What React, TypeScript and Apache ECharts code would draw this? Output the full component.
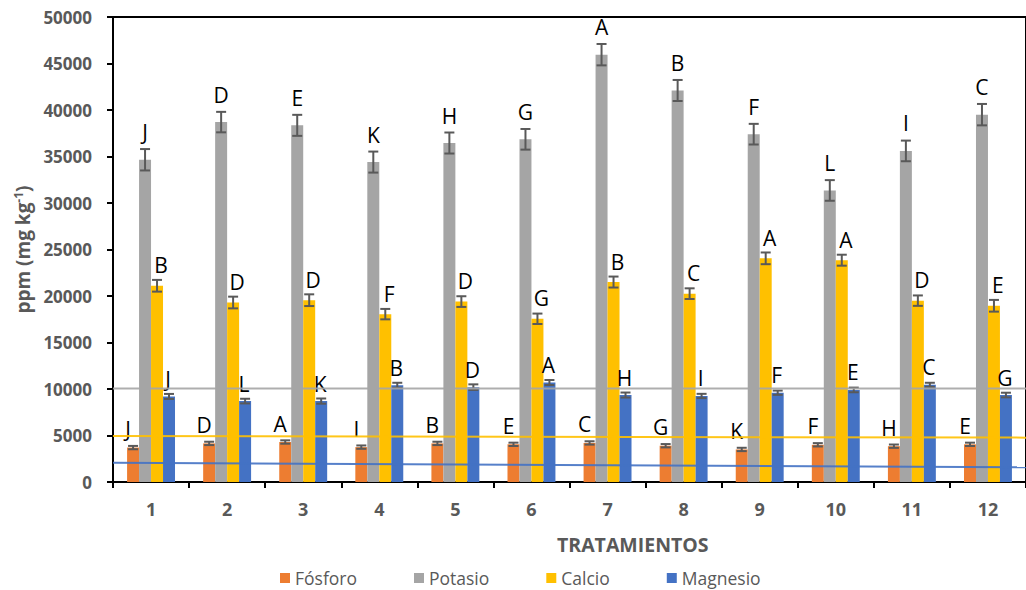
import React, { useEffect, useRef } from "react";
import * as echarts from "echarts";

// Treatments on the category axis
const categories = ["1", "2", "3", "4", "5", "6", "7", "8", "9", "10", "11", "12"];

// Mean concentrations (ppm, mg kg-1)
const fosforo = [3700, 4150, 4300, 3750, 4150, 4050, 4200, 3900, 3500, 4000, 3850, 4050];
const potasio = [34650, 38700, 38350, 34400, 36450, 36850, 45950, 42100, 37400, 31350, 35600, 39500];
const calcio = [21100, 19300, 19550, 18050, 19400, 17550, 21500, 20250, 24050, 23850, 19500, 18950];
const magnesio = [9200, 8700, 8700, 10400, 10200, 10700, 9350, 9250, 9600, 9900, 10450, 9350];

// Standard errors
const errFosforo = [180, 180, 180, 180, 180, 180, 180, 180, 180, 180, 180, 180];
const errPotasio = [1150, 1100, 1130, 1130, 1130, 1110, 1150, 1130, 1110, 1110, 1110, 1150];
const errCalcio = [630, 630, 630, 560, 575, 560, 590, 575, 630, 590, 560, 630];
const errMagnesio = [270, 250, 280, 270, 300, 270, 270, 230, 230, 250, 220, 250];

// Mean separation letters
const letFosforo = ["J", "D", "A", "I", "B", "E", "C", "G", "K", "F", "H", "E"];
const letPotasio = ["J", "D", "E", "K", "H", "G", "A", "B", "F", "L", "I", "C"];
const letCalcio = ["B", "D", "D", "F", "D", "G", "B", "C", "A", "A", "D", "E"];
const letMagnesio = ["J", "L", "K", "B", "D", "A", "H", "I", "F", "E", "C", "G"];

// Reference lines across the treatments (start, end)
const lineSpan = [0, 12];
const refPotasio = [10050, 10050];
const refCalcio = [4950, 4770];
const refMagnesio = [2080, 1575];

const yTicks = { min: 0, max: 50000, interval: 5000 };

const COLORS = {
  fosforo: "#ED7D31",
  potasio: "#A5A5A5",
  calcio: "#FFC000",
  magnesio: "#4472C4",
};

const FONT = "'Open Sans', 'DejaVu Sans', sans-serif";
const CAT_GAP = 0.37;

function barSeries(name: string, data: number[], letters: string[], color: string, distance: number, dx: number) {
  return {
    name,
    type: "bar",
    data,
    itemStyle: { color },
    barGap: "0%",
    barCategoryGap: CAT_GAP * 100 + "%",
    z: 2,
    label: {
      show: true,
      position: "top",
      distance,
      offset: [dx, 0],
      formatter: (p: any) => letters[p.dataIndex],
      fontFamily: FONT,
      fontSize: 21,
      color: "#000",
    },
  };
}

function errorSeries(idx: number, values: number[], errs: number[]) {
  return {
    type: "custom",
    xAxisIndex: 0,
    yAxisIndex: 0,
    z: 5,
    silent: true,
    encode: { x: 0, y: 1 },
    data: values.map((v, i) => [i, v, errs[i]]),
    renderItem: (_params: any, api: any) => {
      const i = api.value(0);
      const v = api.value(1);
      const e = api.value(2);
      const band = api.size([1, 0])[0];
      const bw = (band * (1 - CAT_GAP)) / 4;
      const cx = api.coord([i, v])[0] + (idx - 1.5) * bw;
      const hi = api.coord([i, v + e])[1];
      const lo = api.coord([i, v - e])[1];
      const half = 5;
      const style = { stroke: "#595959", lineWidth: 2 };
      return {
        type: "group",
        children: [
          { type: "line", shape: { x1: cx, y1: hi, x2: cx, y2: lo }, style },
          { type: "line", shape: { x1: cx - half, y1: hi, x2: cx + half, y2: hi }, style },
          { type: "line", shape: { x1: cx - half, y1: lo, x2: cx + half, y2: lo }, style },
        ],
      };
    },
  };
}

function refLine(values: number[], color: string) {
  return {
    type: "line",
    xAxisIndex: 1,
    yAxisIndex: 0,
    data: lineSpan.map((x, i) => [x, values[i]]),
    symbol: "none",
    silent: true,
    z: 8,
    lineStyle: { color, width: 2, opacity: 0.9 },
  };
}

export default function App() {
  const ref = useRef<HTMLDivElement>(null);

  useEffect(() => {
    if (!ref.current) return;
    const chart = echarts.init(ref.current, undefined, { renderer: "svg" });
    chart.setOption({
      animation: false,
      backgroundColor: "#fff",
      textStyle: { fontFamily: FONT },
      grid: {
        left: 113,
        top: 17,
        width: 919,
        height: 465,
        show: true,
        borderColor: "#000",
        borderWidth: 2,
      },
      graphic: [
        {
          type: "text",
          left: 557,
          top: 534,
          style: {
            text: "TRATAMIENTOS",
            fontFamily: FONT,
            fontSize: 19.5,
            fontWeight: "bold",
            fill: "#595959",
            textAlign: "center",
          },
        },
      ],
      legend: {
        data: ["Fósforo", "Potasio", "Calcio", "Magnesio"],
        left: 280,
        top: 569,
        padding: 0,
        itemWidth: 10,
        itemHeight: 10,
        itemGap: 57,
        icon: "rect",
        textStyle: { fontFamily: FONT, fontSize: 17.5, color: "#595959" },
      },
      xAxis: [
        {
          type: "category",
          data: categories,
          axisLine: { lineStyle: { color: "#000", width: 2 } },
          axisTick: { show: true, length: 6, lineStyle: { color: "#000", width: 2 } },
          axisLabel: {
            margin: 18,
            fontFamily: FONT,
            fontSize: 18,
            fontWeight: "bold",
            color: "#595959",
          },
        },
        { type: "value", min: lineSpan[0], max: lineSpan[1], show: false },
      ],
      yAxis: {
        type: "value",
        min: yTicks.min,
        max: yTicks.max,
        interval: yTicks.interval,
        splitLine: { show: false },
        axisLine: { show: true, lineStyle: { color: "#000", width: 2 } },
        axisTick: { show: true, length: 6, lineStyle: { color: "#000", width: 2 } },
        axisLabel: {
          margin: 21,
          fontFamily: FONT,
          fontSize: 17,
          fontWeight: "bold",
          color: "#595959",
          formatter: (v: number) => String(v),
        },
        name: "{a|ppm (mg kg}{s|-1}{a|)}",
        nameLocation: "middle",
        nameRotate: 90,
        nameGap: 78,
        nameTextStyle: {
          rich: {
            a: { fontFamily: FONT, fontSize: 19, fontWeight: "bold", color: "#595959" },
            s: { fontFamily: FONT, fontSize: 12, fontWeight: "bold", color: "#595959", verticalAlign: "top", padding: [0, 0, 9, 0] },
          },
        },
      },
      series: [
        barSeries("Fósforo", fosforo, letFosforo, COLORS.fosforo, 8, -5),
        barSeries("Potasio", potasio, letPotasio, COLORS.potasio, 17, 0),
        barSeries("Calcio", calcio, letCalcio, COLORS.calcio, 10, 4),
        barSeries("Magnesio", magnesio, letMagnesio, COLORS.magnesio, 7, -1),
        errorSeries(0, fosforo, errFosforo),
        errorSeries(1, potasio, errPotasio),
        errorSeries(2, calcio, errCalcio),
        errorSeries(3, magnesio, errMagnesio),
        refLine(refPotasio, COLORS.potasio),
        refLine(refCalcio, COLORS.calcio),
        refLine(refMagnesio, COLORS.magnesio),
      ],
    });
    return () => chart.dispose();
  }, []);

  return (
    <div
      ref={ref}
      style={{ position: "fixed", left: 0, top: 0, width: 1026, height: 590, background: "#fff" }}
    />
  );
}
